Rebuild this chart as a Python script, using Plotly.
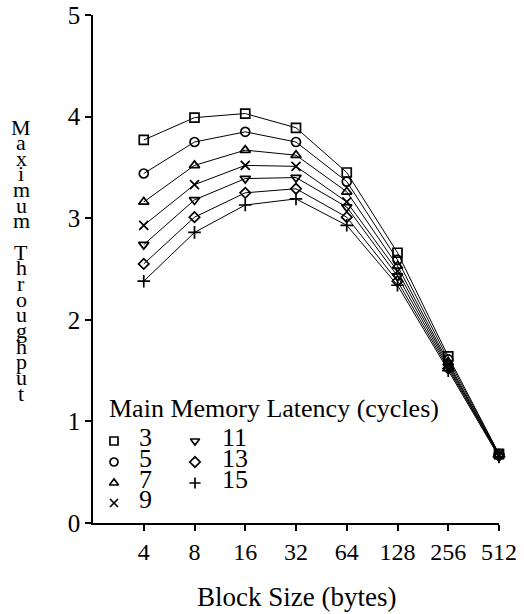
import math
import plotly.graph_objects as go

# Block sizes (bytes) on the horizontal axis
block_sizes = [4, 8, 16, 32, 64, 128, 256, 512]
block_labels = ["4", "8", "16", "32", "64", "128", "256", "512"]

# Main memory latency (cycles) for each curve
latencies = [3, 5, 7, 9, 11, 13, 15]

# Maximum throughput per latency
thr_3 = [3.77, 3.99, 4.03, 3.89, 3.45, 2.66, 1.64, 0.68]
thr_5 = [3.44, 3.75, 3.85, 3.75, 3.36, 2.59, 1.61, 0.68]
thr_7 = [3.16, 3.52, 3.67, 3.62, 3.26, 2.53, 1.58, 0.67]
thr_9 = [2.93, 3.33, 3.52, 3.51, 3.16, 2.48, 1.56, 0.67]
thr_11 = [2.74, 3.18, 3.39, 3.40, 3.11, 2.43, 1.54, 0.66]
thr_13 = [2.55, 3.01, 3.25, 3.29, 3.01, 2.38, 1.52, 0.66]
thr_15 = [2.38, 2.86, 3.13, 3.19, 2.93, 2.34, 1.50, 0.65]

series = [thr_3, thr_5, thr_7, thr_9, thr_11, thr_13, thr_15]
symbols = ["square-open", "circle-open", "triangle-up-open", "x-thin-open",
           "triangle-down-open", "diamond-open", "cross-thin-open"]
sizes = [9, 9, 9, 9, 9, 8, 9]

FONT = "Liberation Serif"
W, H = 524, 614
L, R, T, B = 93, 25, 15, 91
PW, PH = W - L - R, H - T - B


def px_to_paper_x(px):
    return (px - L) / PW


def px_to_paper_y(py):
    return (H - B - py) / PH


fig = go.Figure()

for lat, ys, sym, sz in zip(latencies, series, symbols, sizes):
    fig.add_trace(go.Scatter(
        x=block_sizes, y=ys, mode="lines+markers", name=str(lat),
        line=dict(color="black", width=1),
        marker=dict(symbol=sym, size=sz, color="black",
                    line=dict(color="black", width=1.7)),
        showlegend=False, cliponaxis=False,
    ))

# Hand-laid legend in a two-column block, on a paper-unit overlay axis
col_marker_x = [114, 195]
col_text_x = [137, 220]
row_y = [441, 462, 483, 503]
leg_x, leg_y, leg_sym = [], [], []
annotations = []
for i, (lat, sym) in enumerate(zip(latencies, symbols)):
    col = 0 if i < 4 else 1
    row = i if i < 4 else i - 4
    leg_x.append(px_to_paper_x(col_marker_x[col]))
    leg_y.append(px_to_paper_y(row_y[row]))
    leg_sym.append(sym)
    annotations.append(dict(
        x=px_to_paper_x(col_text_x[col]), y=px_to_paper_y(row_y[row] - 4),
        xref="paper", yref="paper",
        text=str(lat), showarrow=False, xanchor="left", yanchor="middle",
        font=dict(family=FONT, size=26, color="black")))

fig.add_trace(go.Scatter(
    x=leg_x, y=leg_y, xaxis="x2", yaxis="y2", mode="markers",
    marker=dict(symbol=leg_sym, size=8, color="black",
                line=dict(color="black", width=1.7)),
    showlegend=False, hoverinfo="skip", cliponaxis=False,
))

annotations.append(dict(
    x=px_to_paper_x(107), y=px_to_paper_y(408), xref="paper", yref="paper",
    text="Main Memory Latency (cycles)",
    showarrow=False, xanchor="left", yanchor="middle",
    font=dict(family=FONT, size=26, color="black")))

# Axis titles
annotations.append(dict(
    x=0.5, y=px_to_paper_y(597), xref="paper", yref="paper",
    text="Block Size (bytes)",
    showarrow=False, xanchor="center", yanchor="middle",
    font=dict(family=FONT, size=27, color="black")))

# Vertical title: one character per row, stacked downward
ytitle = "Maximum Throughput"
y_start, y_step = 127, 15.65
for k, ch in enumerate(ytitle):
    if ch == " ":
        continue
    annotations.append(dict(
        x=px_to_paper_x(21), y=px_to_paper_y(y_start + k * y_step),
        xref="paper", yref="paper", text=ch,
        showarrow=False, xanchor="center", yanchor="middle",
        font=dict(family=FONT, size=22, color="black")))

fig.update_layout(
    width=W, height=H,
    margin=dict(l=L, r=R, t=T, b=B, pad=0, autoexpand=False),
    paper_bgcolor="white", plot_bgcolor="white",
    showlegend=False,
    font=dict(family=FONT, color="black"),
    xaxis=dict(
        type="log", range=[math.log10(2), math.log10(512)],
        tickvals=block_sizes, ticktext=block_labels,
        ticks="outside", ticklen=6, tickwidth=1.5, tickcolor="black",
        showline=True, linecolor="black", linewidth=1.5,
        showgrid=False, zeroline=False, automargin=False,
        tickfont=dict(family=FONT, size=24, color="black"),
    ),
    yaxis=dict(
        range=[0, 5], tickvals=[0, 1, 2, 3, 4, 5],
        ticks="outside", ticklen=6, tickwidth=1.5, tickcolor="black",
        showline=True, linecolor="black", linewidth=1.5,
        showgrid=False, zeroline=False, automargin=False,
        tickfont=dict(family=FONT, size=25, color="black"),
    ),
    xaxis2=dict(overlaying="x", range=[0, 1], visible=False, fixedrange=True),
    yaxis2=dict(overlaying="y", range=[0, 1], visible=False, fixedrange=True),
    annotations=annotations,
)

fig.write_html("out.html")
